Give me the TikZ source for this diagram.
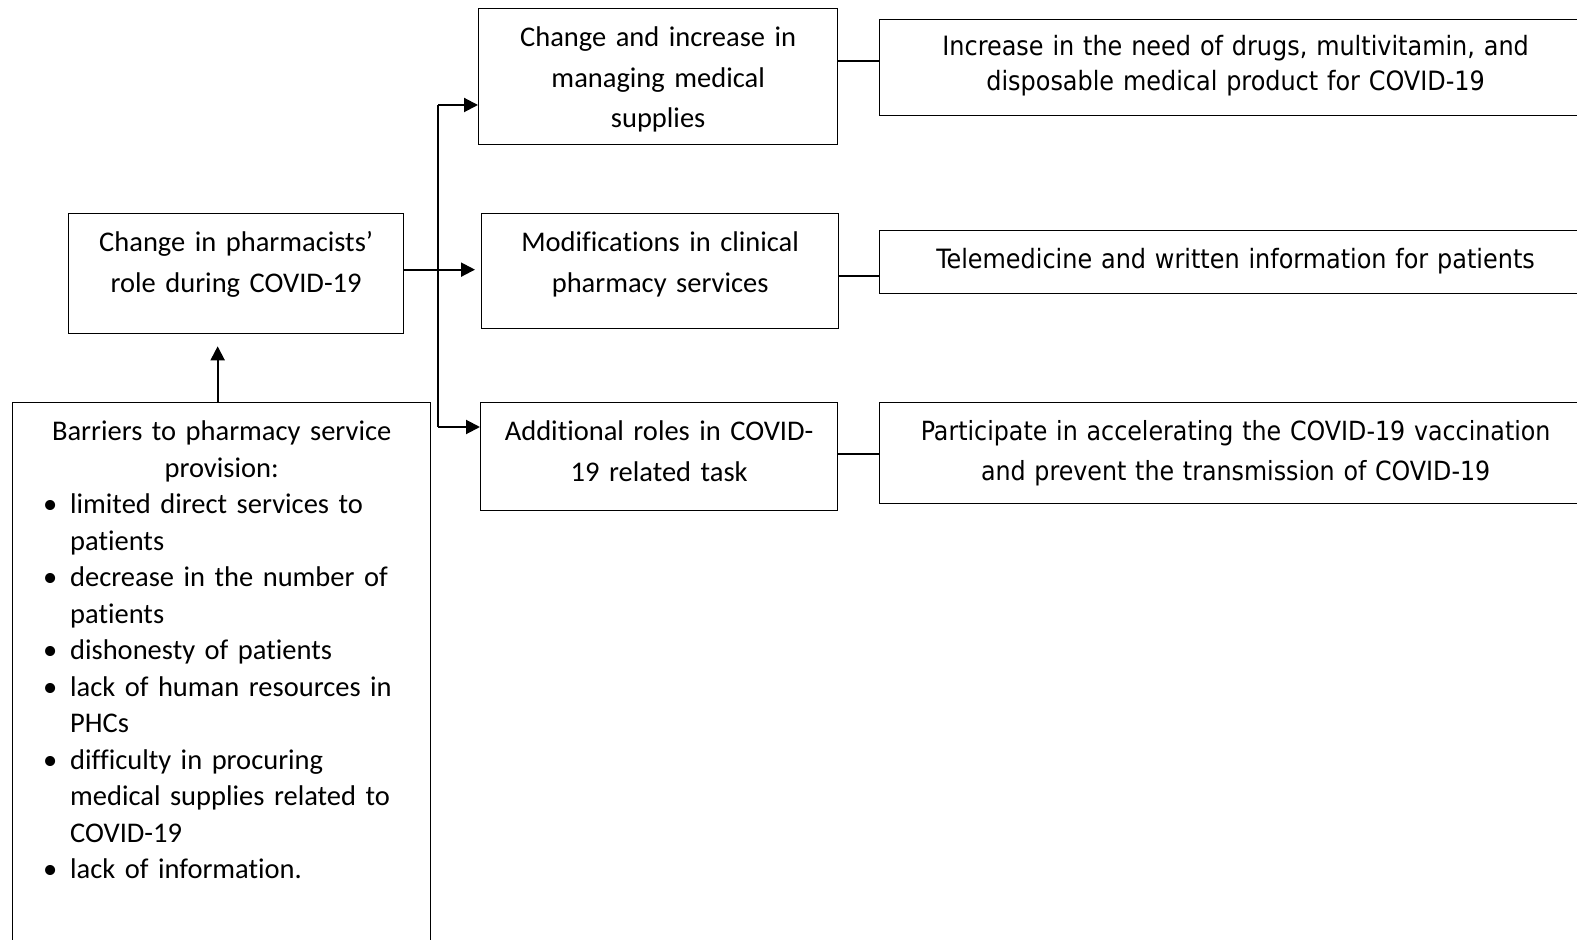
\documentclass[tikz,border=0pt]{standalone}
\usepackage{fontspec}
\setmainfont{Carlito}[Ligatures=NoCommon]
\newfontfamily\rightfont{DejaVu Sans Condensed}
\usetikzlibrary{arrows.meta}

\begin{document}
\begin{tikzpicture}[x=0.5pt,y=-0.5pt,
  box/.style={draw,line width=0.65pt,inner sep=0pt,anchor=north west,align=center,
    font=\fontsize{14.25pt}{20.25pt}\selectfont,text height=19pt},
  outbox/.style={box,font=\rightfont\fontsize{13.3pt}{17.5pt}\selectfont,text width=356pt},
  arr/.style={line width=1pt,-{Triangle[length=7pt,width=7pt]}},
  link/.style={line width=1pt}]
\useasboundingbox (0,0) rectangle (1577,940);
\clip (0,0) rectangle (1577,940);

\node[box,text width=167.5pt,text depth=41pt] (role) at (68,213) {Change in pharmacists’\\role during COVID-19};
\node[box,text width=179.5pt,text depth=49pt] (supplies) at (478,8) {Change and increase in\\managing medical\\supplies};
\node[box,text width=178.5pt,text depth=38.5pt] (clinical) at (481,213) {Modifications in clinical\\pharmacy services};
\node[box,text width=178.5pt,text depth=35pt] (tasks) at (480,402) {Additional roles in COVID-\\19 related task};

\node[outbox,text height=18pt,text depth=30pt] (needs) at (879,19) {Increase in the need of drugs, multivitamin, and\\disposable medical product for COVID-19};
\node[outbox,text depth=12.5pt] (tele) at (879,230) {Telemedicine and written information for patients};
\node[outbox,font=\rightfont\fontsize{13.2pt}{20pt}\selectfont,text depth=31.5pt] (vaccine) at (879,402) {Participate in accelerating the COVID-19 vaccination\\and prevent the transmission of COVID-19};

\node[box,font=\fontsize{14.25pt}{18.25pt}\selectfont,text width=209pt,text depth=261pt] (barriers) at (12,402) {Barriers to pharmacy service\\provision:\\
  \begin{tabular}[t]{@{}p{13.5pt}@{}p{165pt}@{}}
  \textbullet & limited direct services to\\
   & patients\\
  \textbullet & decrease in the number of\\
   & patients\\
  \textbullet & dishonesty of patients\\
  \textbullet & lack of human resources in\\
   & PHCs\\
  \textbullet & difficulty in procuring\\
   & medical supplies related to\\
   & COVID-19\\
  \textbullet & lack of information.
  \end{tabular}};

\coordinate (forktop) at (438,105);
\coordinate (forkbot) at (438,427);

\draw[arr,shorten >=6pt] ([xshift=-2pt]barriers.north) -- ([xshift=-2pt]barriers.north |- role.south);
\draw[arr,shorten >=3pt] ([yshift=2pt]role.east) -- ([yshift=2pt]role.east -| clinical.west);
\draw[link] (forktop) -- (forkbot);
\draw[arr] (forktop) -- (forktop -| supplies.west);
\draw[arr] (forkbot) -- (forkbot -| tasks.west);

\draw[link] ([yshift=8pt]supplies.east) -- ([yshift=8pt]supplies.east -| needs.west);
\draw[link] ([yshift=-2.25pt]clinical.east) -- ([yshift=-2.25pt]clinical.east -| tele.west);
\draw[link] ([yshift=1.5pt]tasks.east) -- ([yshift=1.5pt]tasks.east -| vaccine.west);
\end{tikzpicture}
\end{document}
